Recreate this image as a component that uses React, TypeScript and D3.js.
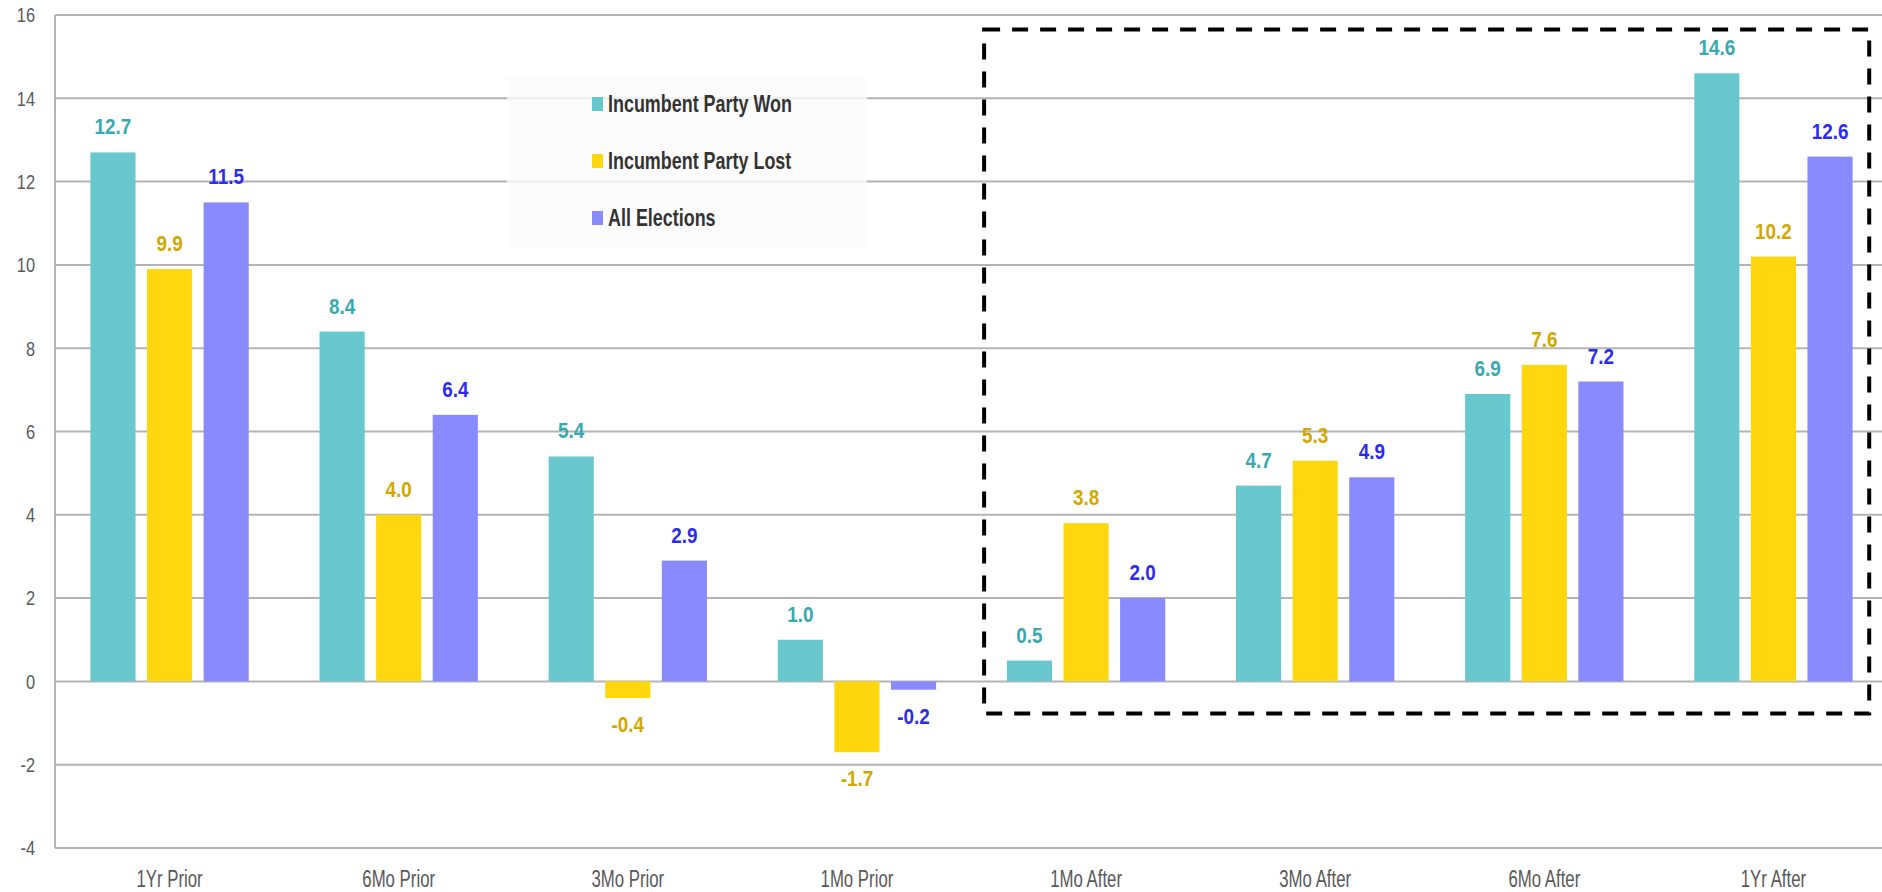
import React from "react";
import * as d3 from "d3";

const categories = ["1Yr Prior", "6Mo Prior", "3Mo Prior", "1Mo Prior", "1Mo After", "3Mo After", "6Mo After", "1Yr After"];
const seriesNames = ["Incumbent Party Won", "Incumbent Party Lost", "All Elections"];
const wonValues = [12.7, 8.4, 5.4, 1.0, 0.5, 4.7, 6.9, 14.6];
const lostValues = [9.9, 4.0, -0.4, -1.7, 3.8, 5.3, 7.6, 10.2];
const allValues = [11.5, 6.4, 2.9, -0.2, 2.0, 4.9, 7.2, 12.6];
const yTicks = [-4, -2, 0, 2, 4, 6, 8, 10, 12, 14, 16];

const barColors = ["#68C8CE", "#FED70F", "#8A8AFF"];
const labelColors = ["#38A9B0", "#D2A800", "#2B2BF2"];

const W = 1882;
const H = 892;
const FONT = "'Liberation Sans', Arial, sans-serif";

type NTProps = {
  x: number;
  y: number;
  anchor?: "start" | "middle" | "end";
  size: number;
  sx?: number;
  weight?: string;
  fill: string;
  dy?: string;
  children: React.ReactNode;
};

function NText({ x, y, anchor = "start", size, sx = 0.82, weight = "normal", fill, dy, children }: NTProps) {
  return (
    <text
      transform={`translate(${x},${y}) scale(${sx},1)`}
      textAnchor={anchor}
      fontFamily={FONT}
      fontSize={size}
      fontWeight={weight}
      fill={fill}
      dy={dy}
    >
      {children}
    </text>
  );
}

export default function App() {
  const series = [wonValues, lostValues, allValues];
  const x = d3.scaleBand<string>().domain(categories).range([55, 1888]).paddingInner(0).paddingOuter(0);
  const y = d3.scaleLinear().domain([-4, 16]).range([848, 15]);
  const bw = x.bandwidth();
  const barW = bw * 0.197;
  const offStep = bw * 0.247;
  const y0 = y(0);

  // dashed highlight box spans "1Mo After" .. "1Yr After"
  const boxLeft = (x("1Mo After") as number) + bw * 0.055;
  const boxRight = (x("1Yr After") as number) + bw * 0.918;
  const boxTop = y(15.65);
  const boxBottom = y(-0.77);

  return (
    <svg width={W} height={H} style={{ position: "absolute", left: 0, top: 0, background: "#fff" }}>
      <rect x={0} y={0} width={W} height={H} fill="#fff" />
      {yTicks.map((t) => (
        <g key={t}>
          <line x1={x.range()[0]} x2={W} y1={y(t)} y2={y(t)} stroke="#b4b4b4" strokeWidth={2} />
          <NText x={35} y={y(t)} dy="0.35em" anchor="end" size={21} sx={0.78} fill="#595959">
            {t}
          </NText>
        </g>
      ))}
      <line x1={55} x2={55} y1={y(16)} y2={y(-4)} stroke="#b4b4b4" strokeWidth={2} />

      {categories.map((c, i) => {
        const cx = (x(c) as number) + bw / 2;
        return (
          <g key={c}>
            {series.map((vals, s) => {
              const v = vals[i];
              const bx = cx + (s - 1) * offStep - barW / 2;
              const top = Math.min(y(v), y0);
              const h = Math.abs(y(v) - y0);
              const ly = v >= 0 ? y(v) - 18 : y(v) + 34;
              return (
                <g key={s}>
                  <rect x={bx} y={top} width={barW} height={h} fill={barColors[s]} />
                  <NText x={bx + barW / 2} y={ly} anchor="middle" weight="bold" size={22.5} sx={0.84} fill={labelColors[s]}>
                    {v.toFixed(1)}
                  </NText>
                </g>
              );
            })}
            <NText x={cx} y={887} anchor="middle" size={24} sx={0.7} fill="#595959">
              {c}
            </NText>
          </g>
        );
      })}

      {/* legend */}
      <rect x={507} y={77} width={360} height={170} fill="#fbfbfb" fillOpacity={0.78} />
      {seriesNames.map((n, s) => {
        const cy = 104 + s * 57;
        return (
          <g key={n}>
            <rect x={592} y={cy - 7} width={11} height={14} fill={barColors[s]} />
            <NText x={608} y={cy} dy="0.36em" weight="bold" size={23} sx={0.78} fill="#333">
              {n}
            </NText>
          </g>
        );
      })}

      {/* dashed highlight box */}
      <rect x={boxLeft} y={boxTop} width={boxRight - boxLeft} height={boxBottom - boxTop} fill="none" stroke="#000" strokeWidth={4} strokeDasharray="16 12" />
    </svg>
  );
}
